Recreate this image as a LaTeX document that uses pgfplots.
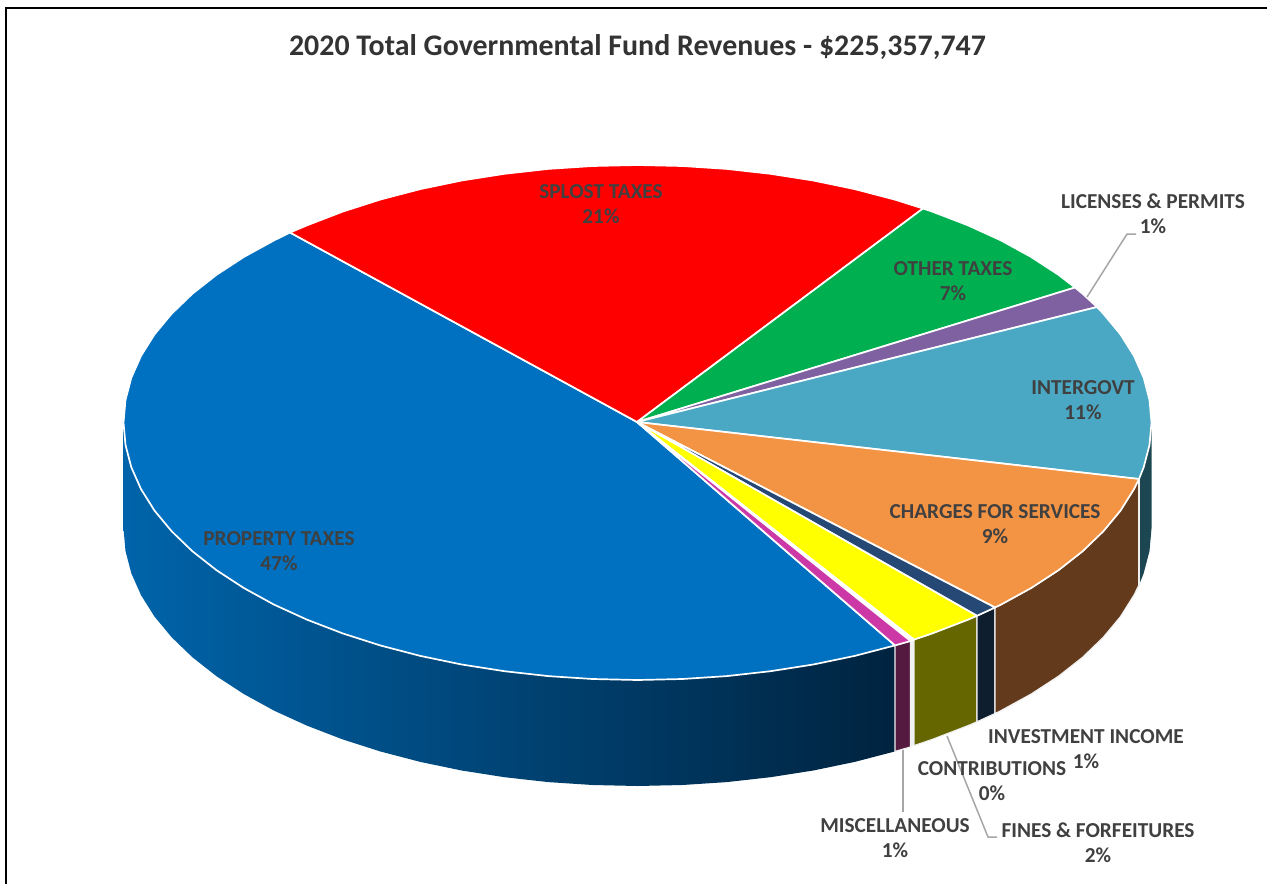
\documentclass[border=0pt]{standalone}
\usepackage{fontspec}
\setmainfont{Carlito}
\usepackage{pgfplots}
\pgfplotsset{compat=1.18}
\definecolor{tblue}{HTML}{0070C0}
\definecolor{tred}{HTML}{FF0000}
\definecolor{tgreen}{HTML}{00B050}
\definecolor{tpurple}{HTML}{7F60A0}
\definecolor{tteal}{HTML}{4BA8C4}
\definecolor{torange}{HTML}{F39445}
\definecolor{tnavy}{HTML}{254874}
\definecolor{tyellow}{HTML}{FFFF00}
\definecolor{tmagenta}{HTML}{CC39A6}
\definecolor{sblueL}{HTML}{0064AA}
\definecolor{sblueR}{HTML}{00233F}
\definecolor{steal}{HTML}{1B4652}
\definecolor{sbrown}{HTML}{633A1B}
\definecolor{snavy}{HTML}{0F1E2E}
\definecolor{solive}{HTML}{666600}
\definecolor{smaroon}{HTML}{541A40}
\definecolor{txt}{HTML}{404040}
\definecolor{lead}{HTML}{A6A6A6}
\newcommand{\lab}[4]{%
  \node[anchor=base,text=txt,font=\fontsize{21.3}{23}\selectfont\bfseries,yshift=-7pt] at (axis cs:#1,#2) {#3};
  \node[anchor=base,text=txt,font=\fontsize{21.3}{23}\selectfont\bfseries,yshift=-32pt] at (axis cs:#1,#2) {#4};
}
\begin{document}
\begin{tikzpicture}[line join=round]
\useasboundingbox (0,0) rectangle (1267pt,884pt);
\begin{axis}[
  at={(0,0)},anchor=south west,
  scale only axis,width=1267pt,height=884pt,
  xmin=0,xmax=1267,ymin=0,ymax=884,y dir=reverse,
  hide axis,clip=false,
  every axis plot/.append style={line join=round}]
% frame
\addplot[black,line width=1.6pt,line join=miter] coordinates {(6,884)(6,8)(1267,8)};
% ---- side walls ----
\addplot[draw=none,left color=sblueL,right color=sblueR] coordinates {
(123.5,422.5)(123.5,528.5)(125.5,551)(131.3,573.2)(141,595.1)(154.5,616.6)(171.7,637.3)(192.4,657.25)(216.5,676.2)(243.8,694)(274,710.6)(307.1,725.7)(342.7,739.4)(380.5,751.5)(420.3,761.9)(461.7,770.5)(504.5,777.2)(548.3,782.1)(592.7,785)(637.5,786)(682.3,785)(726.7,782.1)(770.5,777.2)(813.3,770.5)(854.7,761.9)(895,751.4)(895,645.4)} -- cycle;
\addplot[fill=smaroon,draw=white!88!gray,line width=1.2pt] coordinates {(895,645.4)(910.5,641)(910.5,747)(895,751.4)} -- cycle;
\addplot[fill=white!90!gray,draw=none] coordinates {(910.5,641)(914,639.6)(914,745.6)(910.5,747)} -- cycle;
\addplot[fill=solive,draw=white!88!gray,line width=1.2pt] coordinates {(977,615.8)(967.9,619.7)(932.3,633.4)(914,639.6)(914,745.6)(932.3,739.4)(967.9,725.7)(977,721.8)} -- cycle;
\addplot[fill=snavy,draw=white!88!gray,line width=1.2pt] coordinates {(995,607.5)(977,615.8)(977,721.8)(995,713.5)} -- cycle;
\addplot[fill=sbrown,draw=white!88!gray,line width=1.2pt] coordinates {(1139,479)(1134,489.1)(1120.5,510.6)(1103.3,531.3)(1082.6,551.25)(1058.5,570.2)(1031.2,588)(1001,604.6)(995,607.5)(995,713.5)(1001,710.6)(1031.2,694)(1058.5,676.2)(1082.6,657.25)(1103.3,637.3)(1120.5,616.6)(1134,595.1)(1139,585)} -- cycle;
\addplot[fill=steal,draw=none] coordinates {(1151.5,422.5)(1149.5,445)(1143.7,467.2)(1139,479)(1139,585)(1143.7,573.2)(1149.5,551)(1151.5,528.5)} -- cycle;
\addplot[white!88!gray,line width=1.2pt] coordinates {(1139,479)(1139,585)};
% ---- top slices ----
\addplot[fill=tblue,draw=white,line width=1.7pt] coordinates {(637,422)(895,645.4)(854.7,655.9)(813.3,664.5)(770.5,671.2)(726.7,676.1)(682.3,679)(637.5,680)(592.7,679)(548.3,676.1)(504.5,671.2)(461.7,664.5)(420.3,655.9)(380.5,645.5)(342.7,633.4)(307.1,619.7)(274,604.6)(243.8,588)(216.5,570.2)(192.4,551.25)(171.7,531.3)(154.5,510.6)(141,489.1)(131.3,467.2)(125.5,445)(123.5,422.5)(125.5,400)(131.3,377.8)(141,355.9)(154.5,334.4)(171.7,313.7)(192.4,293.75)(216.5,274.8)(243.8,257)(274,240.4)(290,232.5)} -- cycle;
\addplot[fill=tred,draw=white,line width=1.7pt] coordinates {(637,422)(290,232.5)(307.1,225.3)(342.7,211.6)(380.5,199.5)(420.3,189.1)(461.7,180.5)(504.5,173.8)(548.3,168.9)(592.7,166)(637.5,165)(682.3,166)(726.7,168.9)(770.5,173.8)(813.3,180.5)(854.7,189.1)(894.5,199.5)(923,208.5)} -- cycle;
\addplot[fill=tgreen,draw=white,line width=1.7pt] coordinates {(637,422)(923,208.5)(932.3,211.6)(967.9,225.3)(1001,240.4)(1031.2,257)(1058.5,274.8)(1075,287.5)} -- cycle;
\addplot[fill=tpurple,draw=white,line width=1.7pt] coordinates {(637,422)(1075,287.5)(1082.6,293.75)(1097,307)} -- cycle;
\addplot[fill=tteal,draw=white,line width=1.7pt] coordinates {(637,422)(1097,307)(1103.3,313.7)(1120.5,334.4)(1134,355.9)(1143.7,377.8)(1149.5,400)(1151.5,422.5)(1149.5,445)(1143.7,467.2)(1139,479)} -- cycle;
\addplot[fill=torange,draw=white,line width=1.7pt] coordinates {(637,422)(1139,479)(1134,489.1)(1120.5,510.6)(1103.3,531.3)(1082.6,551.25)(1058.5,570.2)(1031.2,588)(1001,604.6)(995,607.5)} -- cycle;
\addplot[fill=tnavy,draw=white,line width=1.7pt] coordinates {(637,422)(995,607.5)(977,615.8)} -- cycle;
\addplot[fill=tyellow,draw=white,line width=1.7pt] coordinates {(637,422)(977,615.8)(967.9,619.7)(932.3,633.4)(914,639.6)} -- cycle;
\addplot[fill=white,draw=white,line width=1.7pt] coordinates {(637,422)(914,639.6)(910.5,641)} -- cycle;
\addplot[fill=tmagenta,draw=white,line width=1.7pt] coordinates {(637,422)(910.5,641)(895,645.4)} -- cycle;
% leader lines
\addplot[lead,line width=1.5pt] coordinates {(1087,297)(1127,234)(1136,234)};
\addplot[lead,line width=1.5pt] coordinates {(903,750)(903,812)};
\addplot[lead,line width=1.5pt] coordinates {(947,736)(988,837)(997,837)};
% texts
\node[anchor=base,text=black!80,font=\fontsize{29.9}{32}\selectfont\bfseries,yshift=-10pt] at (axis cs:637.5,45) {2020 Total Governmental Fund Revenues - \$225,357,747};
\lab{601}{191}{SPLOST TAXES}{21\%}
\lab{953}{268}{OTHER TAXES}{7\%}
\lab{1153}{201}{LICENSES \& PERMITS}{1\%}
\lab{1083}{387}{INTERGOVT}{11\%}
\lab{995}{511}{CHARGES FOR SERVICES}{9\%}
\lab{1086}{736}{INVESTMENT INCOME}{1\%}
\lab{992}{768}{CONTRIBUTIONS}{0\%}
\lab{1098}{830}{FINES \& FORFEITURES}{2\%}
\lab{895}{825}{MISCELLANEOUS}{1\%}
\lab{279}{538}{PROPERTY TAXES}{47\%}
\end{axis}
\end{tikzpicture}
\end{document}
